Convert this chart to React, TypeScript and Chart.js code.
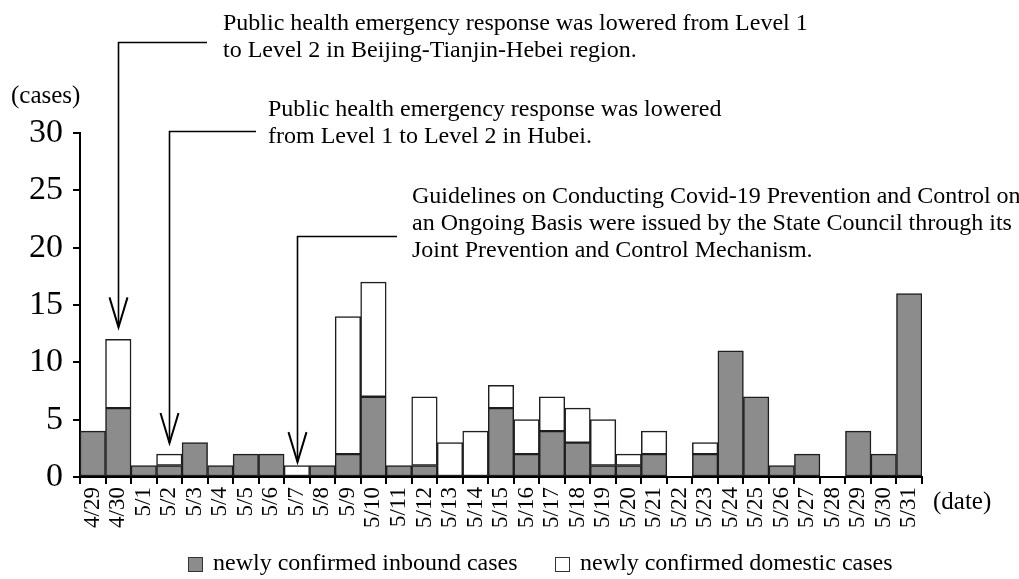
import React, { useEffect, useRef } from "react";
import { Chart, registerables } from "chart.js";
Chart.register(...registerables);

const dates = [
  "4/29", "4/30", "5/1", "5/2", "5/3", "5/4", "5/5", "5/6", "5/7", "5/8", "5/9",
  "5/10", "5/11", "5/12", "5/13", "5/14", "5/15", "5/16", "5/17", "5/18", "5/19",
  "5/20", "5/21", "5/22", "5/23", "5/24", "5/25", "5/26", "5/27", "5/28", "5/29",
  "5/30", "5/31",
];
const inbound = [4, 6, 1, 1, 3, 1, 2, 2, 0, 1, 2, 7, 1, 1, 0, 0, 6, 2, 4, 3, 1, 1, 2, 0, 2, 11, 7, 1, 2, 0, 4, 2, 16];
const domestic = [0, 6, 0, 1, 0, 0, 0, 0, 1, 0, 12, 10, 0, 6, 3, 4, 2, 3, 3, 3, 4, 1, 2, 0, 1, 0, 0, 0, 0, 0, 0, 0, 0];
const yTicks = [0, 5, 10, 15, 20, 25, 30];

const seriesNames = ["newly confirmed inbound cases", "newly confirmed domestic cases"];

const notes = [
  {
    index: 1,
    tipValue: 13.05,
    lines: [
      "Public health emergency response was lowered from Level 1",
      "to Level 2 in Beijing-Tianjin-Hebei region.",
    ],
  },
  {
    index: 3,
    tipValue: 2.96,
    lines: ["Public health emergency response was lowered", "from Level 1 to Level 2 in Hubei."],
  },
  {
    index: 8,
    tipValue: 1.3,
    lines: [
      "Guidelines on Conducting Covid-19 Prevention and Control on",
      "an Ongoing Basis were issued by the State Council through its",
      "Joint Prevention and Control Mechanism.",
    ],
  },
];

const FONT = "'Liberation Serif', 'Times New Roman', serif";
const GRAY = "#8c8c8c";
const EDGE = "#1e1e1e";

// layout (not data)
const noteLayout = [
  { lineY: 42, lineEnd: 207, textX: 223, baseY: 30 },
  { lineY: 131, lineEnd: 256, textX: 268, baseY: 116 },
  { lineY: 236, lineEnd: 397, textX: 412, baseY: 203 },
];

const overlayPlugin = {
  id: "overlay",
  afterDraw(chart: any) {
    const ctx = chart.ctx as CanvasRenderingContext2D;
    const xs = chart.scales.x;
    const ys = chart.scales.y;
    ctx.save();
    ctx.fillStyle = "#000";
    ctx.strokeStyle = "#000";
    // axis titles
    ctx.font = `25px ${FONT}`;
    ctx.textBaseline = "middle";
    ctx.textAlign = "left";
    ctx.fillText("(cases)", 11, 96);
    ctx.fillText("(date)", 933, 502);

    // annotations
    ctx.font = `24px ${FONT}`;
    ctx.textBaseline = "alphabetic";
    notes.forEach((n, i) => {
      const L = noteLayout[i];
      n.lines.forEach((t, j) => ctx.fillText(t, L.textX, L.baseY + j * 27));
      const x = Math.round(xs.getPixelForValue(n.index)) + 0.5;
      const tip = ys.getPixelForValue(n.tipValue);
      ctx.lineWidth = 1.6;
      ctx.beginPath();
      ctx.moveTo(L.lineEnd, L.lineY + 0.5);
      ctx.lineTo(x, L.lineY + 0.5);
      ctx.lineTo(x, tip);
      ctx.stroke();
      ctx.lineWidth = 2;
      ctx.beginPath();
      ctx.moveTo(x - 9, tip - 30);
      ctx.lineTo(x, tip);
      ctx.lineTo(x + 9, tip - 30);
      ctx.stroke();
    });

    // legend
    const ly = 564;
    const items = [
      { x: 188, tx: 213, fill: GRAY },
      { x: 555, tx: 580, fill: "#fff" },
    ];
    ctx.font = `24px ${FONT}`;
    ctx.textBaseline = "middle";
    items.forEach((it, i) => {
      ctx.fillStyle = it.fill;
      ctx.fillRect(it.x, ly - 7, 15, 15);
      ctx.lineWidth = 1;
      ctx.strokeStyle = "#333";
      ctx.strokeRect(it.x + 0.5, ly - 7 + 0.5, 14, 14);
      ctx.fillStyle = "#000";
      ctx.fillText(seriesNames[i], it.tx, ly);
    });
    ctx.restore();
  },
};

export default function App() {
  const ref = useRef<HTMLCanvasElement | null>(null);
  useEffect(() => {
    document.body.style.margin = "0";
    const chart = new Chart(ref.current as HTMLCanvasElement, {
      type: "bar",
      data: {
        labels: dates,
        datasets: [
          {
            label: seriesNames[0],
            data: inbound.map((v) => (v === 0 ? null : v)),
            backgroundColor: GRAY,
            borderColor: EDGE,
            borderWidth: 1.5,
            borderSkipped: false,
            barPercentage: 1,
            categoryPercentage: 1,
          },
          {
            label: seriesNames[1],
            data: domestic.map((v) => (v === 0 ? null : v)),
            backgroundColor: "#ffffff",
            borderColor: EDGE,
            borderWidth: 1.5,
            borderSkipped: false,
            barPercentage: 1,
            categoryPercentage: 1,
          },
        ],
      },
      options: {
        animation: false,
        responsive: false,
        layout: { padding: { top: 133, right: 97, left: 0, bottom: 0 } },
        plugins: { legend: { display: false }, tooltip: { enabled: false } },
        scales: {
          x: {
            stacked: true,
            offset: true,
            grid: {
              display: true,
              offset: true,
              drawOnChartArea: false,
              drawTicks: true,
              tickLength: 7,
              color: "#000",
              lineWidth: 2,
            },
            border: { display: true, color: "#000", width: 2 },
            ticks: {
              autoSkip: false,
              minRotation: 90,
              maxRotation: 90,
              padding: 3,
              color: "#000",
              font: { family: FONT, size: 23 },
            },
            afterFit: (s: any) => {
              s.height = 102;
            },
          },
          y: {
            stacked: true,
            min: 0,
            max: 30,
            afterBuildTicks: (s: any) => {
              s.ticks = yTicks.map((v) => ({ value: v }));
            },
            grid: {
              display: true,
              drawOnChartArea: false,
              drawTicks: true,
              tickLength: 7,
              color: "#000",
              lineWidth: 2,
            },
            border: { display: true, color: "#000", width: 2 },
            ticks: {
              padding: 10,
              color: "#000",
              font: { family: FONT, size: 34 },
            },
            afterFit: (s: any) => {
              s.width = 80;
            },
          },
        },
      },
      plugins: [overlayPlugin],
    });
    return () => chart.destroy();
  }, []);
  return (
    <div style={{ position: "absolute", left: 0, top: 0, width: 1019, height: 579 }}>
      <canvas ref={ref} width={1019} height={579} style={{ width: 1019, height: 579 }} />
    </div>
  );
}
